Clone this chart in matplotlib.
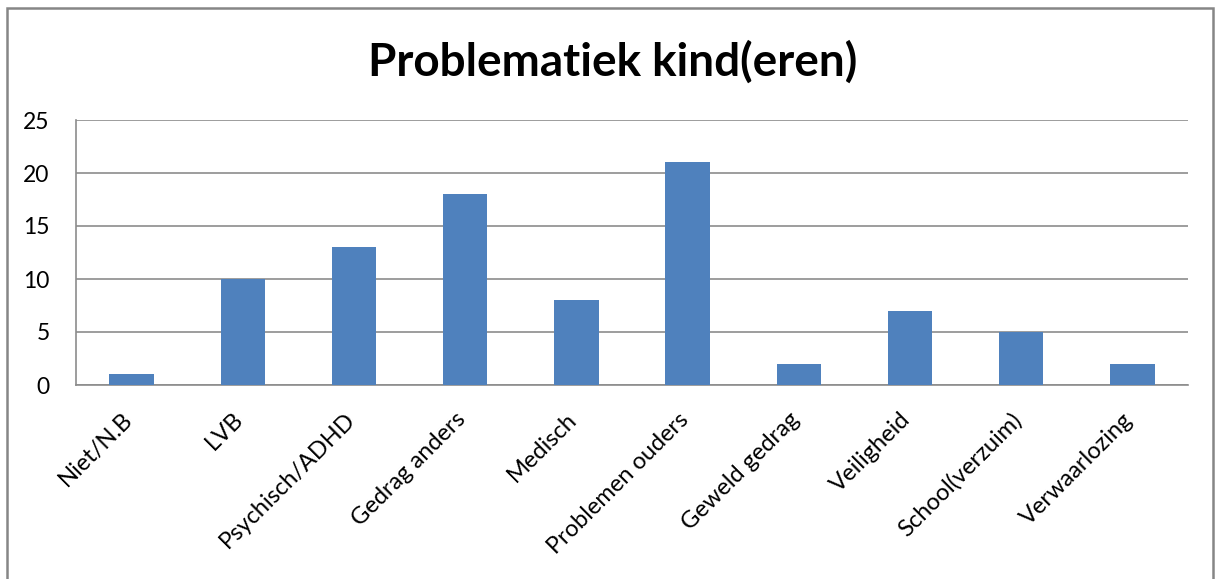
import matplotlib.pyplot as plt
import matplotlib.patches as patches
import matplotlib.transforms as mtransforms

categories = ['Niet/N.B', 'LVB', 'Psychisch/ADHD', 'Gedrag anders', 'Medisch',
              'Problemen ouders', 'Geweld gedrag', 'Veiligheid', 'School(verzuim)',
              'Verwaarlozing']
values = [1, 10, 13, 18, 8, 21, 2, 7, 5, 2]
yticks = [0, 5, 10, 15, 20, 25]

plt.rcParams['font.family'] = ['Lato', 'DejaVu Sans']

fig = plt.figure(figsize=(12.17, 5.79), dpi=100)
ax = fig.add_axes([76 / 1217, 1 - 385 / 579, (1188 - 76) / 1217, (385 - 120) / 579])

# outer chart border (bottom is cut off in the reference)
fig.patches.append(patches.Rectangle((7 / 1217, -0.02), (1213 - 7) / 1217, 1.02 - 8 / 579,
                                     transform=fig.transFigure, fill=False,
                                     edgecolor='#868686', linewidth=1.8))

x = range(len(categories))
ax.bar(x, values, width=0.4, color='#4F81BD', zorder=3)

ax.set_xlim(-0.5, len(categories) - 0.5)
ax.set_ylim(0, 25)
ax.set_yticks(yticks)
ax.set_yticklabels([str(t) for t in yticks], fontsize=16.5)
ax.yaxis.grid(True, color='#8c8c8c', linewidth=1.2, zorder=0)
ax.tick_params(axis='y', length=0, pad=19)
ax.tick_params(axis='x', length=0)

ax.set_xticks(list(x))
ax.set_xticklabels(categories, rotation=45, ha='right', rotation_mode='anchor', fontsize=17)
offset = mtransforms.ScaledTranslation(-0.1, -0.19, fig.dpi_scale_trans)
for lbl in ax.get_xticklabels():
    lbl.set_transform(lbl.get_transform() + offset)

for side in ['top', 'right']:
    ax.spines[side].set_visible(False)
for side in ['left', 'bottom']:
    ax.spines[side].set_color('#8c8c8c')
    ax.spines[side].set_linewidth(1.2)

fig.text(613 / 1217, 1 - 62 / 579, 'Problematiek kind(eren)', ha='center', va='center',
         fontsize=33, fontweight='bold')

fig.savefig('out.png', dpi=100)
